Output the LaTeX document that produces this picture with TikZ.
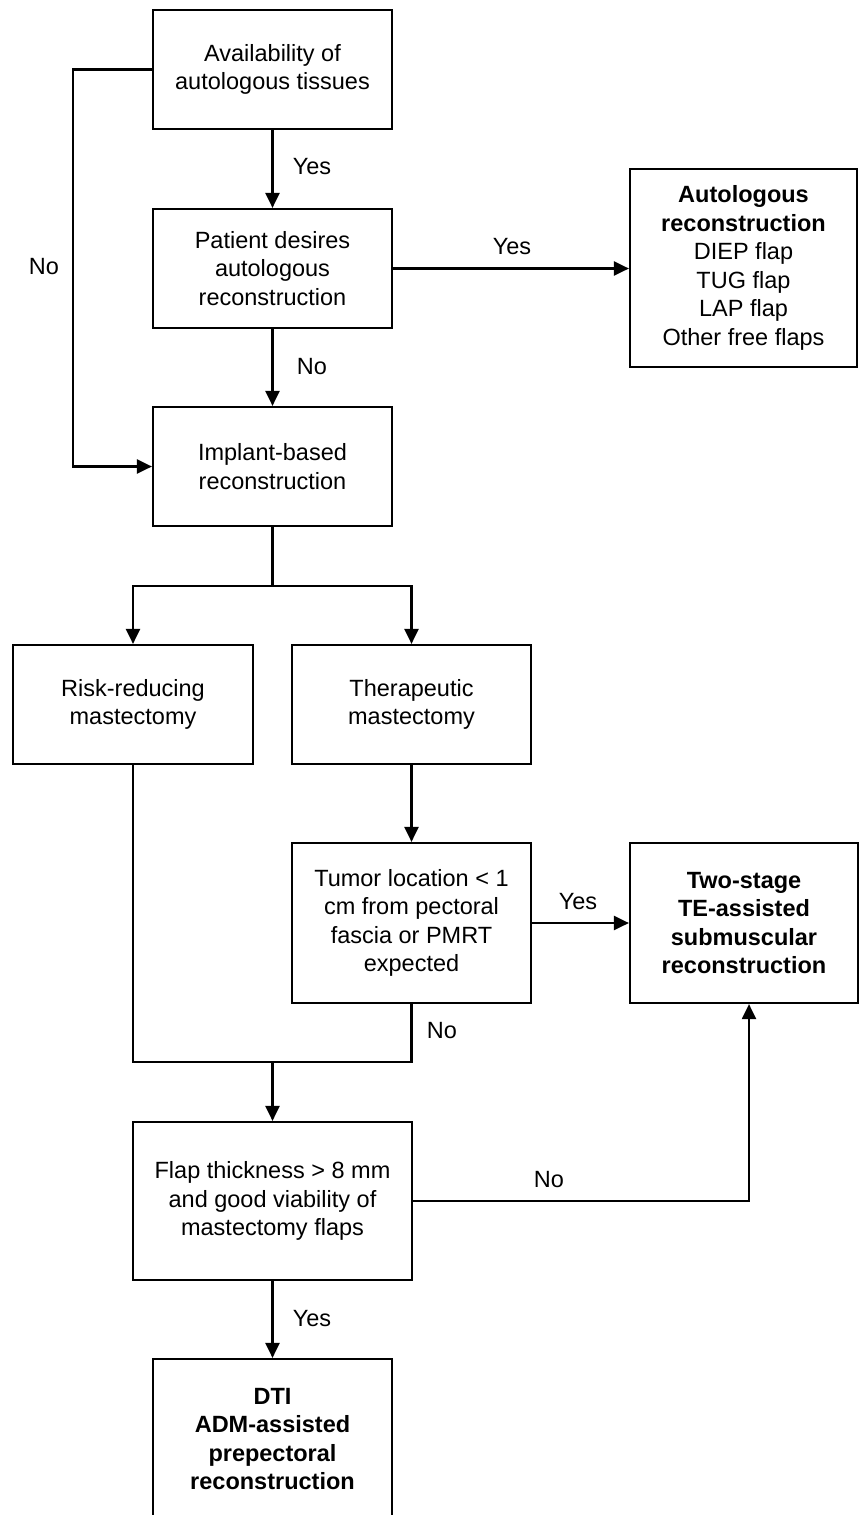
\documentclass[tikz,border=0pt]{standalone}
\usepackage{fontspec}
\setmainfont{Liberation Sans}
\usetikzlibrary{arrows.meta,fit}
\begin{document}
\begin{tikzpicture}[x=1pt,y=-1pt,
  every node/.style={font=\fontsize{23.5}{28.5}\selectfont},
  box/.style={draw, line width=2.2pt, minimum width=239pt, minimum height=119pt, align=center, inner sep=0pt},
  outbox/.style={box, font=\fontsize{23.5}{28.5}\selectfont\bfseries},
  arr/.style={-{Triangle[length=15pt,width=14pt]}, line width=2.2pt},
  ln/.style={line width=2.2pt},
  lbl/.style={inner sep=0pt}]
\useasboundingbox (0,0) rectangle (859,1515);
% nodes
\node[box] (avail) at (272.5,69.5) {Availability of\\autologous tissues};
\node[box] (desire) at (272.5,268.5) {Patient desires\\autologous\\reconstruction};
\node[outbox, minimum width=227pt, minimum height=198pt] (auto) at (743.5,268)
  {Autologous\\reconstruction\\\mdseries DIEP flap\\\mdseries TUG flap\\\mdseries LAP flap\\\mdseries Other free flaps};
\node[box, minimum height=119pt] (implant) at (272.5,466.5) {Implant-based\\reconstruction};
\node[box, minimum width=240pt, minimum height=119pt] (risk) at (133,704.5) {Risk-reducing\\mastectomy};
\node[box, minimum width=239pt, minimum height=119pt] (ther) at (411.5,704.5) {Therapeutic\\mastectomy};
\node[box, minimum width=239pt, minimum height=160pt] (tumor) at (411.5,923) {Tumor location < 1\\cm from pectoral\\fascia or PMRT\\expected};
\node[outbox, minimum width=228pt, minimum height=160pt] (two) at (744,923) {Two-stage\\TE-assisted\\submuscular\\reconstruction};
\node[box, minimum width=279pt, minimum height=158pt] (flap) at (272.5,1201) {Flap thickness > 8 mm\\and good viability of\\mastectomy flaps};
\node[draw, line width=2.2pt, inner sep=0pt, fit={(153,1359) (392,1560)}] (dti) {};
\node[align=center, font=\fontsize{23.5}{28.5}\selectfont\bfseries] (dtitext) at (272.5,1439) {DTI\\ADM-assisted\\prepectoral\\reconstruction};
% coordinates
\coordinate (lefttop) at (73,69.5);
\coordinate (leftbot) at (73,466.5);
\coordinate (split) at (272.5,586);
\coordinate (splitL) at (133,586);
\coordinate (splitR) at (411.5,586);
\coordinate (joinL) at (133,1062);
\coordinate (joinR) at (411.5,1062);
\coordinate (joinM) at (272.5,1062);
\coordinate (noR) at (749,1201);
% connectors
\draw[arr] (avail.south) -- (desire.north);
\draw[arr] (desire.east) -- (auto.west |- desire.east);
\draw[arr] (avail.west) -- (lefttop) -- (leftbot) -- (implant.west);
\draw[arr] (desire.south) -- (implant.north);
\draw[ln] (implant.south) -- (split);
\draw[arr] (split) -- (splitL) -- (risk.north);
\draw[arr] (split) -- (splitR) -- (ther.north);
\draw[arr] (ther.south) -- (tumor.north);
\draw[arr] (tumor.east) -- (two.west);
\draw[ln] (risk.south) -- (joinL) -- (joinR) -- (tumor.south);
\draw[arr] (joinM) -- (flap.north);
\draw[arr] (flap.east) -- (noR) -- (two.south -| noR);
\draw[arr] (flap.south) -- (dti.north -| flap.south);
% labels
\node[lbl] (l1) at (312,167) {Yes};
\node[lbl] (l2) at (512,247) {Yes};
\node[lbl] (l3) at (44,267) {No};
\node[lbl] (l4) at (312,367) {No};
\node[lbl] (l5) at (578,902) {Yes};
\node[lbl] (l6) at (442,1031) {No};
\node[lbl] (l7) at (549,1180) {No};
\node[lbl] (l8) at (312,1319) {Yes};
\end{tikzpicture}
\end{document}
